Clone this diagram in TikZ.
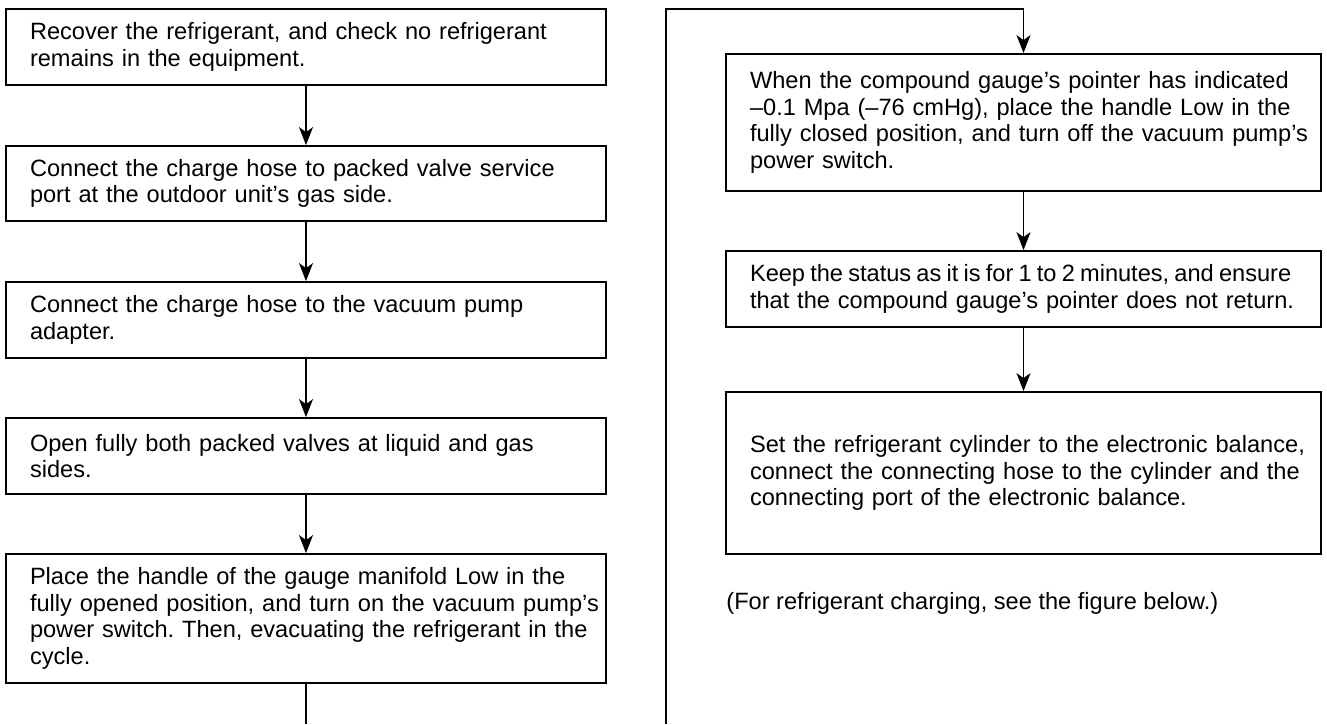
\documentclass[tikz,border=0pt]{standalone}
\usepackage{fontspec}
\setmainfont{Liberation Sans}
\usetikzlibrary{arrows.meta}

\begin{document}
\begin{tikzpicture}[
    x=0.5pt, y=-0.5pt,
    every node/.style={font=\fontsize{11.8pt}{13.3pt}\selectfont\frenchspacing},
    stepbox/.style={rectangle, draw=black, line width=0.9pt, inner xsep=6pt, inner ysep=0pt, align=left,
        execute at begin node={\leftskip=6pt\rightskip=-8pt plus 1fil\hyphenpenalty=10000}},
    leftbox/.style={stepbox, text width=288pt},
    rightbox/.style={stepbox, text width=285.5pt},
    note/.style={anchor=west, inner sep=0pt},
    flow/.style={-{Stealth[length=9pt, width=7pt, inset=2.5pt]}, line width=0.7pt},
    link/.style={line width=0.7pt}
]
    \useasboundingbox (0,0) rectangle (1327,724);

    % Left column
    \node[leftbox, minimum height=38pt] (recover) at (306,47) {Recover the refrigerant, and check no refrigerant\\remains in the equipment.};
    \node[leftbox, minimum height=37.5pt] (port) at (306,183.5) {Connect the charge hose to packed valve service\\port at the outdoor unit’s gas side.};
    \node[leftbox, minimum height=38pt] (adapter) at (306,320) {Connect the charge hose to the vacuum pump\\adapter.};
    \node[leftbox, minimum height=38pt] (valves) at (306,456) {Open fully both packed valves at liquid and gas\\sides.};
    \node[leftbox, minimum height=64.5pt] (evacuate) at (306,618.5) {Place the handle of the gauge manifold Low in the\\fully opened position, and turn on the vacuum pump’s\\power switch. Then, evacuating the refrigerant in the\\cycle.};

    % Right column
    \node[rightbox, minimum height=68.5pt] (pointer) at (1023.5,122.5) {When the compound gauge’s pointer has indicated\\--0.1 Mpa (--76 cmHg), place the handle Low in the\\fully closed position, and turn off the vacuum pump’s\\power switch.};
    \node[rightbox, minimum height=38pt] (hold) at (1023.5,289) {{\spaceskip=2.6pt Keep the status as it is for 1 to 2 minutes, and ensure}\\that the compound gauge’s pointer does not return.};
    \node[rightbox, minimum height=81pt] (cylinder) at (1023.5,473) {Set the refrigerant cylinder to the electronic balance,\\connect the connecting hose to the cylinder and the\\connecting port of the electronic balance.};
    \node[note] (seebelow) at (726,603) {(For refrigerant charging, see the figure below.)};

    % Column change
    \coordinate (leftend) at (306,724);
    \coordinate (rightstart) at (666,724);
    \coordinate (rightup) at (666,9);

    % Connections
    \draw[flow] (recover) -- (port);
    \draw[flow] (port) -- (adapter);
    \draw[flow] (adapter) -- (valves);
    \draw[flow] (valves) -- (evacuate);
    \draw[link] (evacuate) -- (leftend);
    \draw[flow] (rightstart) -- (rightup) -| (pointer.north);
    \draw[flow] (pointer) -- (hold);
    \draw[flow] (hold) -- (cylinder);
\end{tikzpicture}
\end{document}
